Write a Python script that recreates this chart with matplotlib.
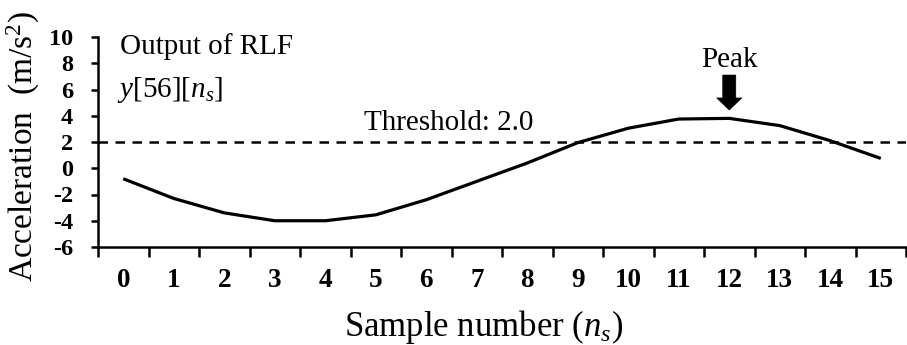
import numpy as np
import matplotlib
matplotlib.use("Agg")
import matplotlib.pyplot as plt

plt.rcParams['font.family'] = ['Liberation Serif', 'DejaVu Serif']
plt.rcParams['mathtext.fontset'] = 'custom'
plt.rcParams['mathtext.rm'] = 'Liberation Serif'
plt.rcParams['mathtext.it'] = 'Liberation Serif:italic'
plt.rcParams['mathtext.bf'] = 'Liberation Serif:bold'
plt.rcParams['axes.unicode_minus'] = False

# data
samples = list(range(16))
sample_labels = [str(s) for s in samples]
acceleration = [-0.8, -2.3, -3.4, -4.0, -4.0, -3.55, -2.4, -1.0, 0.4, 1.95,
                3.05, 3.75, 3.8, 3.25, 2.1, 0.75]
threshold = 2.0
peak_index = 12
y_ticks = [-6, -4, -2, 0, 2, 4, 6, 8, 10]

fig = plt.figure(figsize=(9.07, 3.45), dpi=100)
ax = fig.add_axes([98/907, 1-247/345, 808/907, 210/345])

ax.plot(samples, acceleration, color='black', lw=2.3, solid_capstyle='butt')
ax.axhline(threshold, color='black', lw=1.8, linestyle=(0, (3.8, 3.0)))

ax.set_xlim(-0.5, 15.5)
ax.set_ylim(-6, 10)

ax.set_xticks(samples)
ax.set_xticklabels(sample_labels, fontsize=19.5, fontweight='bold')
ax.set_xticks(np.arange(-0.5, 16, 1), minor=True)
ax.tick_params(axis='x', which='major', length=0, pad=15)
ax.tick_params(axis='x', which='minor', length=7, width=1.8, direction='out')

ax.set_yticks(y_ticks)
ax.set_yticklabels([str(v) for v in y_ticks], fontsize=17.5, fontweight='bold')
ax.tick_params(axis='y', length=5, width=1.8, direction='out', pad=13)

for s in ['top', 'right']:
    ax.spines[s].set_visible(False)
for s in ['left', 'bottom']:
    ax.spines[s].set_linewidth(1.8)

ax.set_ylabel(r"Acceleration  (m/s$^{\mathrm{2}}$)", fontsize=24)
ax.yaxis.set_label_coords(-0.0693, 0.48)
ax.set_xlabel(r"Sample number ($n_s$)", fontsize=25)
ax.xaxis.set_label_coords(0.4765, -0.29)

ax.text(-0.064, 8.70, "Output of RLF", fontsize=21, va='baseline', ha='left')
ax.text(-0.124, 5.43, r"$y$[56][$n_s$]", fontsize=21, va='baseline', ha='left')
ax.text(4.77, 2.91, "Threshold: 2.0", fontsize=21, va='baseline', ha='left')
ax.text(peak_index, 7.74, "Peak", fontsize=21, va='baseline', ha='center')

ax.annotate("", xy=(peak_index, 4.44), xytext=(peak_index, 7.10),
            arrowprops=dict(arrowstyle="simple,head_width=1.0,head_length=0.48,tail_width=0.52",
                            mutation_scale=18, fc='black', ec='black', lw=0.5,
                            shrinkA=0, shrinkB=0))

fig.savefig("out.png", dpi=100)
